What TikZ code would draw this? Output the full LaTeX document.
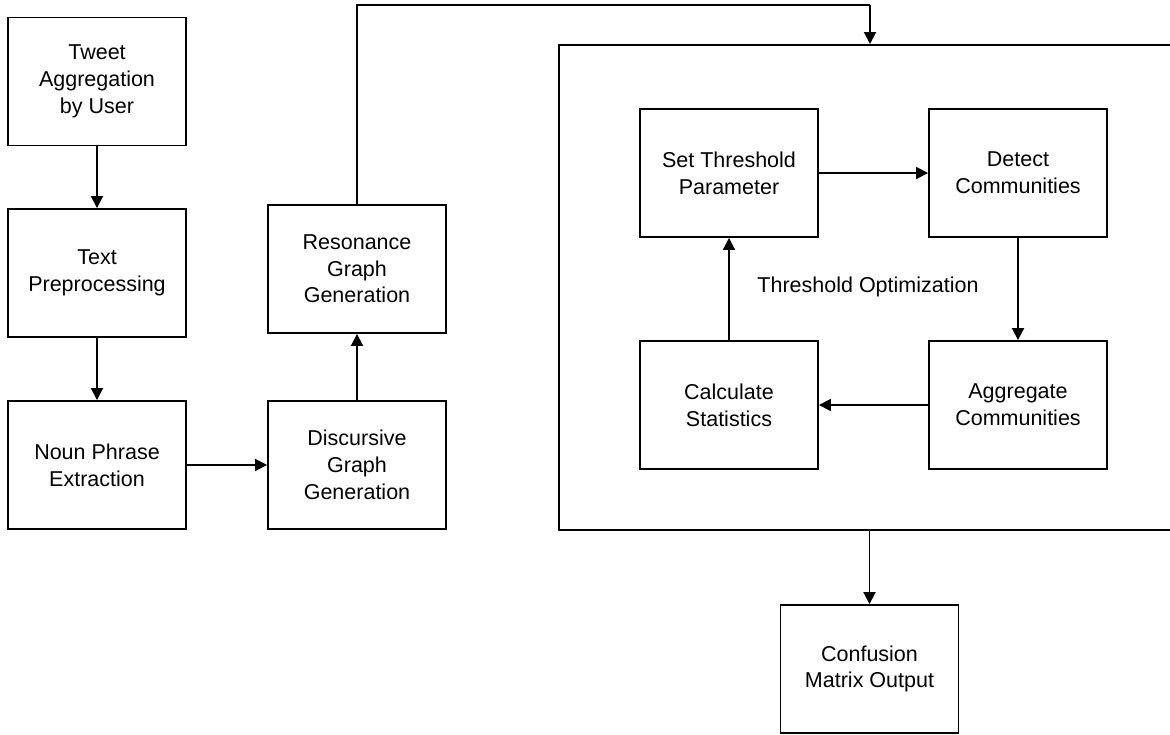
\documentclass[tikz,border=0pt]{standalone}
\usepackage{fontspec}
\setmainfont{Liberation Sans}
\usetikzlibrary{arrows.meta}
\begin{document}
\begin{tikzpicture}[x=1pt,y=-1pt,
  box/.style={draw=black, line width=1.9pt, minimum width=178pt, minimum height=128pt,
    align=center, inner sep=0pt,
    font=\fontsize{21.5pt}{26.7pt}\selectfont},
  conn/.style={line width=1.9pt, -{Triangle[length=12pt,width=12pt]}},
  plain/.style={line width=1.9pt}]
\useasboundingbox (0,0) rectangle (1170,734);
\clip (0,0) rectangle (1170,734);
\node[box] (tweet) at (97,81.5) {Tweet\\Aggregation\\by User};
\node[box] (text) at (97,273) {Text\\Preprocessing};
\node[box] (noun) at (97,465) {Noun Phrase\\Extraction};
\node[box] (disc) at (357,465) {Discursive\\Graph\\Generation};
\node[box] (reso) at (357,269) {Resonance\\Graph\\Generation};
\node[draw=black, line width=1.9pt, minimum width=640pt, minimum height=485pt, anchor=north west, inner sep=0pt] (big) at (558,44) {};
\node[box] (set) at (729,173) {Set Threshold\\Parameter};
\node[box] (detect) at (1018,173) {Detect\\Communities};
\node[box] (calc) at (729,405) {Calculate\\Statistics};
\node[box] (agg) at (1018,405) {Aggregate\\Communities};
\node[font=\fontsize{21.5pt}{26.7pt}\selectfont, inner sep=0pt] (opt) at (868,287) {Threshold Optimization};
\node[box] (conf) at (869.5,669) {Confusion\\Matrix Output};
\coordinate (topjoin) at (870,5);
\draw[conn] (tweet) -- (text);
\draw[conn] (text) -- (noun);
\draw[conn] (noun) -- (disc);
\draw[conn] (disc) -- (reso);
\draw[plain] (reso.north) |- (topjoin);
\draw[conn] (topjoin) -- (topjoin |- big.north);
\draw[conn] (set) -- (detect);
\draw[conn] (detect) -- (agg);
\draw[conn] (agg) -- (calc);
\draw[conn] (calc) -- (set);
\draw[conn] (conf.north |- big.south) -- (conf.north);
\end{tikzpicture}
\end{document}
